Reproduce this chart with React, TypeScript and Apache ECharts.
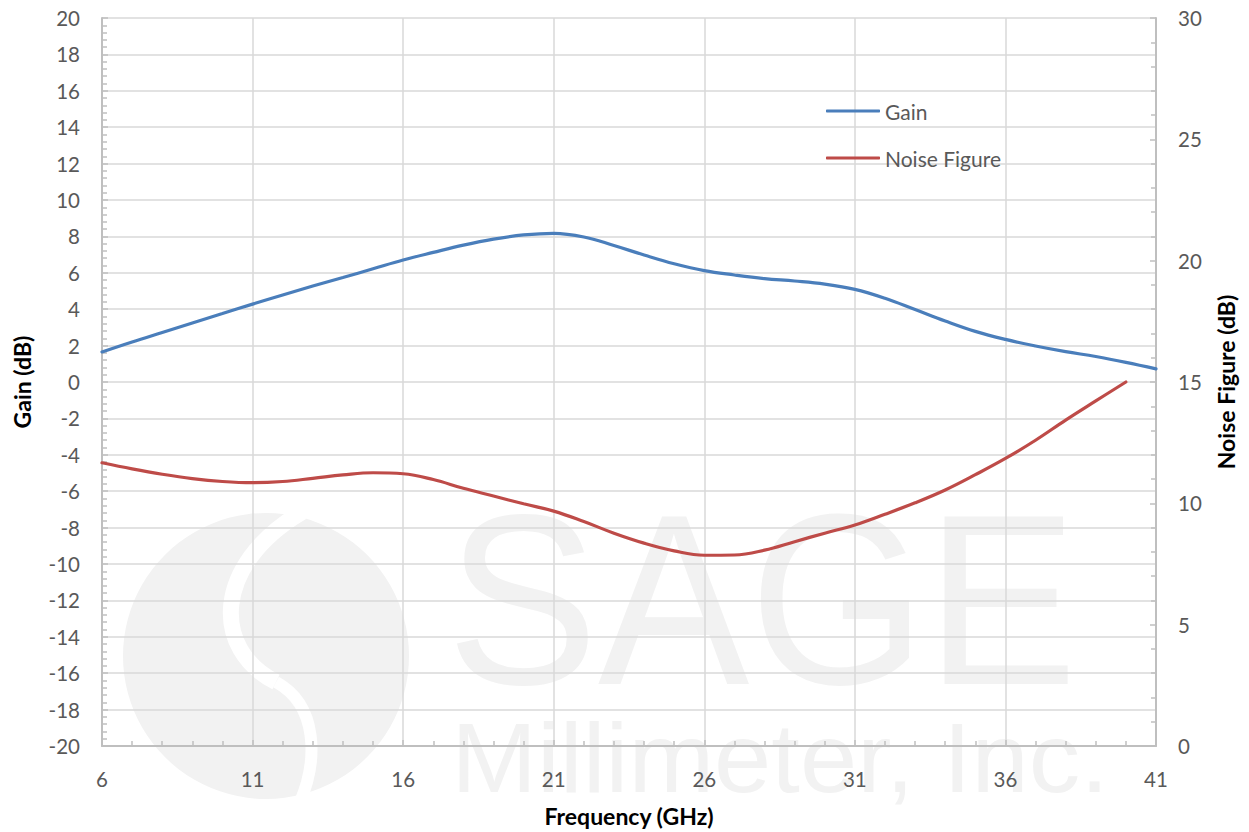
import { useEffect, useRef } from "react";
import * as echarts from "echarts";

const gainFreq = [6, 7, 8, 9, 10, 11, 12, 13, 14, 15, 16, 17, 18, 19, 20, 21, 22, 23, 24, 25, 26, 27, 28, 29, 30, 31, 32, 33, 34, 35, 36, 37, 38, 39, 40, 41];
const gainValues = [1.65, 2.2, 2.72, 3.24, 3.76, 4.28, 4.78, 5.27, 5.74, 6.22, 6.7, 7.12, 7.52, 7.85, 8.08, 8.17, 7.97, 7.5, 6.98, 6.5, 6.12, 5.88, 5.68, 5.55, 5.38, 5.09, 4.6, 3.98, 3.35, 2.78, 2.34, 1.98, 1.67, 1.4, 1.08, 0.72];

const nfFreq = [6, 7, 8, 9, 10, 11, 12, 13, 14, 15, 16, 17, 18, 19, 20, 21, 22, 23, 24, 25, 26, 27, 28, 29, 30, 31, 32, 33, 34, 35, 36, 37, 38, 39, 40];
const nfValues = [11.67, 11.42, 11.2, 11.02, 10.9, 10.85, 10.9, 11.03, 11.17, 11.26, 11.22, 10.98, 10.62, 10.3, 9.98, 9.68, 9.25, 8.77, 8.36, 8.04, 7.86, 7.87, 8.07, 8.42, 8.77, 9.11, 9.55, 10.02, 10.55, 11.18, 11.85, 12.6, 13.43, 14.22, 15.0];

const seriesNames = ["Gain", "Noise Figure"];
const axisNames = { x: "Frequency (GHz)", left: "Gain (dB)", right: "Noise Figure (dB)" };
const watermarkTexts = ["SAGE", "Millimeter, Inc."];

const LABEL = "#595959";
const AXIS = "#bfbfbf";
const GRID = "#d9d9d9";
const FONT = "Lato";
const WM = "#f2f2f2";

export default function App() {
  const ref = useRef<HTMLDivElement>(null);
  useEffect(() => {
    document.body.style.margin = "0";
    if (!ref.current) return;
    const chart = echarts.init(ref.current, undefined, { renderer: "svg" });
    const axisCommon = {
      axisLine: { show: true, onZero: false, lineStyle: { color: AXIS, width: 2 } },
      axisTick: { show: true, inside: true, length: 6, lineStyle: { color: AXIS, width: 1.5 } },
      minorTick: { show: true, splitNumber: 5, length: 5, lineStyle: { color: AXIS, width: 1.5 } },
      axisLabel: { color: LABEL, fontSize: 20.5, fontFamily: FONT, margin: 22 },
      nameLocation: "middle" as const,
      nameTextStyle: { color: "#000", fontWeight: "bold" as const, fontSize: 23, fontFamily: FONT },
    };
    chart.setOption({
      animation: false,
      backgroundColor: "#fff",
      grid: { left: 102, right: 93, top: 18, bottom: 86, containLabel: false },
      graphic: {
        elements: [
          { type: "circle", z: -10, shape: { cx: 266, cy: 656, r: 143 }, style: { fill: WM } },
          {
            type: "bezierCurve", z: -9,
            shape: { x1: 302, y1: 512, cpx1: 212, cpy1: 565, cpx2: 212, cpy2: 650, x2: 276, y2: 682 },
            style: { stroke: "#fff", lineWidth: 16, fill: null },
          },
          {
            type: "bezierCurve", z: -9,
            shape: { x1: 276, y1: 682, cpx1: 318, cpy1: 705, cpx2: 318, cpy2: 760, x2: 300, y2: 802 },
            style: { stroke: "#fff", lineWidth: 12, fill: null },
          },
          {
            type: "text", z: -10, x: 762, y: 600, scaleX: 0.93,
            style: {
              text: watermarkTexts[0], fill: WM, font: '244px "Liberation Sans"',
              textAlign: "center", align: "center", textVerticalAlign: "middle", verticalAlign: "middle",
            },
          },
          {
            type: "text", z: -10, x: 780, y: 758, scaleX: 1.05,
            style: {
              text: watermarkTexts[1], fill: WM, font: '98px "Liberation Sans"',
              textAlign: "center", align: "center", textVerticalAlign: "middle", verticalAlign: "middle",
            },
          },
        ],
      },
      legend: {
        orient: "vertical",
        left: 826,
        top: 100,
        padding: 0,
        itemWidth: 54,
        itemHeight: 3,
        itemGap: 25,
        icon: "roundRect",
        data: seriesNames,
        textStyle: { color: LABEL, fontSize: 21, fontFamily: FONT, lineHeight: 22 },
      },
      xAxis: {
        type: "value",
        min: 6,
        max: 41,
        interval: 5,
        ...axisCommon,
        splitLine: { show: true, lineStyle: { color: GRID, width: 1.5 } },
        name: axisNames.x,
        nameGap: 58,
      },
      yAxis: [
        {
          type: "value",
          position: "left",
          min: -20,
          max: 20,
          interval: 2,
          ...axisCommon,
          splitLine: { show: true, lineStyle: { color: GRID, width: 1.5 } },
          name: axisNames.left,
          nameRotate: 90,
          nameGap: 69,
        },
        {
          type: "value",
          position: "right",
          min: 0,
          max: 30,
          interval: 5,
          ...axisCommon,
          splitLine: { show: false },
          name: axisNames.right,
          nameRotate: 90,
          nameGap: 58,
        },
      ],
      series: [
        {
          name: seriesNames[0],
          type: "line",
          yAxisIndex: 0,
          data: gainFreq.map((f, i) => [f, gainValues[i]]),
          smooth: 0.4,
          symbol: "none",
          lineStyle: { color: "#4a7ebb", width: 3.2, cap: "round" },
          itemStyle: { color: "#4a7ebb" },
        },
        {
          name: seriesNames[1],
          type: "line",
          yAxisIndex: 1,
          data: nfFreq.map((f, i) => [f, nfValues[i]]),
          smooth: 0.4,
          symbol: "none",
          lineStyle: { color: "#be4b48", width: 3.2, cap: "round" },
          itemStyle: { color: "#be4b48" },
        },
      ],
    });
    return () => chart.dispose();
  }, []);
  return <div ref={ref} style={{ width: 1249, height: 832 }} />;
}
